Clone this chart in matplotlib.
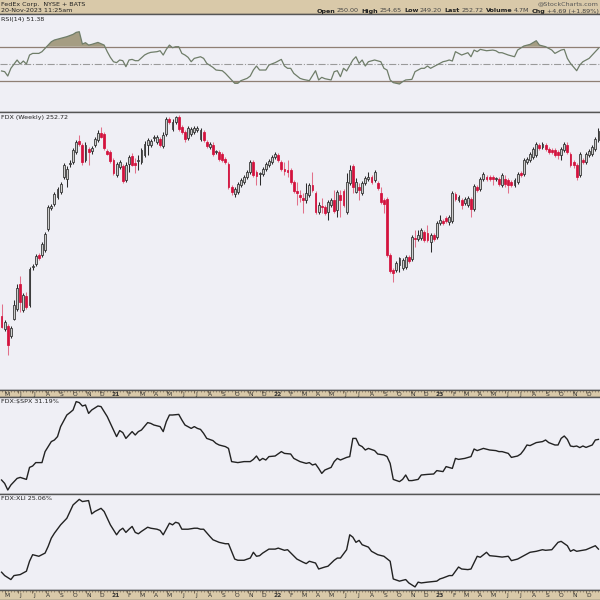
# weekly FDX candles with RSI and relative-strength panels, StockCharts look

import pandas as pd
import numpy as np
import matplotlib
matplotlib.use("Agg")
import matplotlib.pyplot as plt
import matplotlib.dates as mdates
from matplotlib.patches import Rectangle

# ---- weekly candles ----
opens = [123.2, 114.1, 116.2, 109.2, 121.1, 128.1, 145.6, 127.4, 137.2, 130.9,
         157.5, 159.6, 165.9, 165.9, 169.4, 184.1, 198.8, 201.6, 206.5, 210.0,
         220.5, 219.1, 229.6, 231.0, 238.0, 245.7, 242.9, 232.4, 240.1, 238.7,
         242.9, 246.4, 251.3, 250.6, 238.7, 238.0, 232.4, 221.9, 227.5, 228.2,
         218.4, 229.6, 235.2, 230.3, 231.7, 231.0, 235.9, 242.9, 242.9, 247.8,
         245.0, 247.1, 242.2, 250.6, 261.1, 254.1, 259.0, 262.5, 255.5, 252.0,
         247.8, 250.6, 252.0, 253.4, 247.1, 252.0, 245.0, 241.5, 242.9, 238.0,
         238.0, 236.6, 233.1, 229.6, 213.5, 208.6, 210.0, 214.9, 217.0, 220.5,
         224.0, 231.0, 224.0, 222.6, 222.6, 226.1, 228.9, 231.0, 234.5, 235.9,
         231.0, 226.1, 225.4, 225.4, 217.0, 210.7, 207.9, 205.8, 204.4, 207.9,
         214.9, 209.3, 196.0, 200.2, 199.5, 196.0, 200.9, 204.4, 197.4, 207.9,
         210.7, 196.0, 216.3, 228.2, 210.0, 213.5, 209.3, 216.3, 219.1, 220.5,
         218.4, 216.3, 209.3, 204.4, 205.1, 165.9, 155.4, 155.4, 158.9, 156.8,
         157.5, 164.5, 163.1, 177.8, 177.1, 177.8, 182.0, 181.3, 175.0, 179.9,
         178.5, 188.3, 189.7, 191.8, 189.0, 189.7, 208.6, 204.4, 204.4, 202.3,
         200.9, 205.1, 198.1, 213.5, 212.1, 219.1, 220.5, 220.5, 220.5, 219.1,
         219.1, 214.9, 219.1, 218.4, 217.0, 214.9, 217.0, 223.3, 222.6, 231.0,
         232.4, 234.5, 235.9, 242.9, 241.5, 242.9, 240.1, 239.4, 239.4, 238.0,
         235.9, 239.4, 242.9, 236.6, 231.0, 228.9, 221.9, 232.4, 231.0, 235.9,
         236.6, 240.1, 246.4]
highs = [131.6, 120.4, 117.6, 116.2, 134.4, 145.6, 151.2, 139.3, 140.0, 157.5,
         159.6, 166.6, 167.3, 175.0, 182.0, 200.9, 201.6, 210.0, 213.5, 217.0,
         230.3, 228.2, 232.4, 240.8, 246.4, 249.9, 244.3, 245.0, 241.5, 242.2,
         248.5, 253.4, 255.5, 252.0, 240.1, 239.4, 233.8, 231.0, 232.4, 229.6,
         231.0, 235.9, 237.3, 233.8, 235.9, 240.8, 245.7, 247.8, 247.1, 249.9,
         249.9, 248.5, 252.0, 262.5, 262.5, 261.1, 263.2, 263.9, 256.9, 253.4,
         256.2, 255.5, 256.2, 256.2, 254.8, 253.4, 246.4, 245.0, 245.0, 239.4,
         239.4, 238.0, 234.5, 231.0, 214.9, 213.5, 217.0, 219.8, 221.9, 225.4,
         232.4, 232.4, 225.4, 224.0, 227.5, 231.0, 233.1, 235.9, 238.0, 237.3,
         232.4, 231.0, 232.4, 226.8, 218.4, 217.0, 211.4, 209.3, 216.3, 216.3,
         224.0, 210.7, 203.0, 205.8, 200.9, 204.4, 205.8, 211.4, 211.4, 211.4,
         212.1, 223.3, 228.9, 229.6, 219.8, 216.3, 217.7, 221.2, 224.0, 221.9,
         225.4, 217.7, 213.5, 205.8, 206.5, 167.3, 156.8, 161.7, 164.5, 163.8,
         165.9, 165.9, 179.9, 183.4, 183.4, 184.8, 183.4, 186.9, 181.3, 181.3,
         189.7, 193.9, 191.1, 193.2, 193.9, 210.7, 210.0, 207.9, 205.8, 206.5,
         207.2, 206.5, 215.6, 214.9, 220.5, 224.0, 221.9, 221.9, 221.9, 220.5,
         220.5, 223.3, 221.9, 219.8, 218.4, 219.8, 224.0, 224.7, 233.8, 234.5,
         238.0, 241.5, 245.0, 244.3, 245.0, 244.3, 241.5, 240.8, 240.8, 239.4,
         241.5, 245.0, 245.0, 238.0, 232.4, 230.3, 238.0, 233.8, 238.0, 240.1,
         242.9, 248.5, 254.8]
lows = [114.8, 112.7, 95.9, 107.8, 120.4, 126.7, 126.0, 126.0, 128.1, 129.5,
        155.4, 158.2, 162.4, 164.5, 168.0, 182.7, 197.4, 200.2, 205.1, 208.6,
        219.1, 213.5, 227.5, 229.6, 236.6, 242.2, 228.9, 231.0, 228.9, 236.6,
        241.5, 245.0, 247.8, 239.4, 235.9, 230.3, 221.9, 220.5, 226.1, 216.3,
        217.0, 224.0, 228.2, 223.3, 225.4, 229.6, 234.5, 235.9, 241.5, 245.7,
        243.6, 241.5, 240.8, 249.2, 257.6, 252.7, 257.6, 252.7, 250.6, 245.0,
        246.4, 249.2, 250.6, 252.0, 245.7, 245.0, 240.8, 240.1, 235.2, 236.6,
        231.7, 231.0, 229.6, 212.1, 207.9, 206.5, 208.6, 213.5, 215.6, 219.1,
        222.6, 220.5, 214.9, 214.9, 221.2, 224.7, 227.5, 229.6, 233.1, 231.0,
        224.7, 221.9, 220.5, 215.6, 209.3, 200.9, 203.0, 195.3, 202.3, 206.5,
        210.0, 194.6, 194.6, 195.3, 193.9, 190.4, 199.5, 195.3, 192.5, 192.5,
        199.5, 194.6, 214.9, 209.3, 209.3, 204.4, 207.9, 214.9, 217.7, 215.6,
        217.0, 211.4, 201.6, 195.3, 164.5, 153.3, 147.0, 154.0, 154.0, 155.4,
        156.1, 160.3, 161.7, 171.5, 175.7, 176.4, 175.0, 175.0, 168.0, 175.7,
        177.1, 186.9, 186.9, 188.3, 186.9, 188.3, 203.7, 203.0, 198.1, 200.9,
        199.5, 192.5, 196.7, 210.0, 210.7, 217.7, 217.7, 217.7, 214.9, 217.7,
        214.2, 213.5, 213.5, 209.3, 213.5, 213.5, 215.6, 220.5, 221.2, 229.6,
        231.0, 233.1, 234.5, 239.4, 240.1, 238.7, 236.6, 236.6, 234.5, 233.1,
        232.4, 238.0, 236.6, 227.5, 226.8, 218.4, 220.5, 229.6, 229.6, 234.5,
        235.2, 238.7, 245.0]
closes = [115.5, 119.0, 102.9, 114.8, 130.9, 142.8, 133.0, 137.9, 129.5, 156.1,
          158.2, 165.2, 163.8, 173.6, 180.6, 199.5, 200.2, 208.6, 212.1, 215.6,
          228.9, 226.1, 230.3, 239.4, 245.0, 243.6, 231.0, 242.9, 238.0, 240.8,
          247.1, 251.3, 248.5, 240.8, 236.6, 231.7, 223.3, 229.6, 231.0, 217.7,
          228.9, 234.5, 228.9, 228.9, 232.4, 239.4, 243.6, 246.4, 245.7, 248.5,
          248.5, 242.9, 249.9, 261.1, 259.0, 259.0, 262.5, 254.1, 252.0, 247.1,
          254.8, 254.1, 254.8, 254.8, 253.4, 246.4, 242.2, 243.6, 236.6, 238.0,
          233.1, 232.4, 231.0, 213.5, 210.0, 212.1, 215.6, 218.4, 220.5, 224.0,
          231.0, 221.9, 221.2, 222.6, 226.1, 229.6, 231.7, 234.5, 236.6, 232.4,
          226.1, 224.7, 224.0, 217.0, 210.7, 209.3, 206.5, 204.4, 209.3, 214.9,
          211.4, 196.0, 200.9, 199.5, 195.3, 203.0, 204.4, 196.7, 210.0, 204.4,
          200.9, 217.0, 225.4, 213.5, 217.0, 211.4, 216.3, 219.8, 220.5, 217.0,
          224.0, 212.8, 203.0, 201.6, 165.9, 154.7, 153.3, 160.3, 163.8, 162.4,
          164.5, 161.7, 178.5, 177.1, 179.9, 183.4, 176.4, 176.4, 179.9, 177.1,
          188.3, 190.4, 188.3, 189.7, 192.5, 209.3, 205.1, 206.5, 200.9, 205.1,
          205.8, 198.1, 214.2, 211.4, 219.1, 222.6, 219.1, 219.1, 219.1, 219.1,
          215.6, 221.9, 215.6, 214.9, 214.9, 218.4, 222.6, 221.9, 232.4, 233.1,
          236.6, 240.1, 243.6, 240.8, 243.6, 240.1, 238.0, 238.0, 235.9, 235.9,
          240.1, 243.6, 238.0, 228.9, 228.9, 220.5, 236.6, 231.0, 236.6, 238.7,
          241.5, 247.1, 252.72]

# ---- RSI(14), sampled at these week numbers ----
rsi_week = [0, 1, 2, 3, 5, 6, 7, 8, 9, 10, 12, 13, 15, 16, 17, 19, 21, 23, 24, 25,
            26, 27, 28, 29, 31, 33, 34, 35, 36, 37, 38, 39, 40, 41, 42, 43, 44, 46, 47, 48,
            50, 51, 52, 53, 54, 55, 56, 57, 58, 59, 60, 61, 62, 64, 65, 66, 68, 69, 71, 72,
            74, 75, 76, 77, 79, 80, 81, 82, 83, 85, 86, 88, 90, 91, 92, 93, 94, 96, 97, 99,
            101, 102, 103, 104, 106, 107, 108, 109, 110, 111, 113, 114, 115, 116, 117, 118, 120, 122, 123, 124,
            125, 126, 128, 129, 130, 132, 133, 135, 136, 137, 138, 140, 142, 143, 144, 145, 146, 147, 148, 150,
            151, 152, 153, 154, 156, 158, 159, 160, 161, 163, 165, 166, 168, 170, 172, 173, 175, 177, 178, 180,
            181, 182, 183, 185, 186, 187, 189, 190, 192]
rsi_value = [41.7, 40.9, 35.8, 44.8, 54.5, 49.8, 53.3, 49.8, 60.3, 62.2, 62.2, 64.2, 71.9, 75.8, 77.8, 79.7, 81.7, 84.4, 86.7, 87.5,
             73.1, 74.7, 71.9, 72.7, 75.0, 71.9, 64.2, 57.6, 52.5, 51.4, 54.5, 53.7, 46.7, 54.5, 55.2, 53.7, 53.7, 60.3, 62.2, 63.4,
             64.2, 65.3, 60.3, 66.9, 71.9, 68.8, 70.0, 70.0, 62.2, 60.3, 57.6, 52.5, 56.4, 58.3, 56.4, 50.6, 45.9, 42.8, 42.0, 38.9,
             31.2, 27.3, 27.3, 30.4, 33.1, 35.8, 42.8, 47.5, 42.8, 42.8, 48.6, 51.4, 55.2, 47.5, 44.8, 44.8, 38.9, 33.1, 31.9, 30.4,
             42.0, 31.2, 34.3, 32.7, 31.2, 40.9, 42.0, 35.0, 44.8, 41.7, 54.5, 58.3, 50.6, 54.5, 47.5, 52.5, 54.5, 52.5, 44.8, 42.8,
             31.2, 28.1, 26.5, 29.2, 31.2, 31.9, 40.9, 44.8, 44.8, 47.5, 44.8, 48.6, 52.5, 53.3, 54.5, 53.3, 64.2, 62.2, 60.3, 63.0,
             58.3, 66.1, 64.2, 66.9, 65.3, 66.1, 65.3, 63.0, 63.0, 60.3, 58.3, 66.1, 70.8, 72.7, 77.0, 71.9, 70.0, 66.1, 62.2, 66.1,
             66.9, 56.4, 50.6, 42.0, 48.6, 52.5, 56.4, 60.3, 68.1]

# ---- FDX relative to $SPX ----
spx_week = [0, 1, 2, 3, 5, 6, 7, 8, 9, 10, 11, 13, 14, 16, 17, 18, 19, 21, 22, 23,
            24, 25, 26, 27, 28, 29, 31, 32, 34, 35, 36, 37, 38, 39, 40, 41, 42, 43, 44, 45,
            47, 48, 49, 51, 52, 53, 54, 55, 57, 58, 59, 61, 62, 63, 64, 65, 66, 68, 69, 70,
            72, 73, 74, 76, 78, 80, 81, 82, 83, 84, 85, 86, 88, 90, 91, 93, 94, 96, 98, 99,
            100, 101, 102, 103, 104, 106, 107, 108, 109, 111, 112, 113, 114, 115, 116, 117, 118, 120, 121, 123,
            124, 125, 126, 128, 129, 130, 131, 132, 134, 135, 137, 139, 140, 142, 143, 145, 146, 147, 149, 151,
            152, 153, 155, 157, 159, 160, 161, 163, 164, 166, 167, 168, 169, 170, 172, 174, 175, 176, 178, 179,
            180, 181, 182, 183, 184, 185, 186, 187, 188, 190, 191, 192]
spx_rel = [1.00, 0.83, 0.50, 0.75, 1.08, 1.13, 1.08, 1.03, 1.63, 1.70, 1.87, 1.87, 2.42, 2.92, 3.00, 3.17, 3.67, 4.25, 4.37, 4.50,
           4.92, 4.87, 4.70, 4.75, 4.33, 4.50, 4.70, 4.67, 4.17, 3.83, 3.50, 3.17, 3.47, 3.37, 3.08, 3.25, 3.42, 3.25, 3.42, 3.50,
           3.87, 3.83, 3.75, 3.67, 3.42, 3.92, 4.25, 4.25, 4.28, 4.00, 3.75, 3.58, 3.67, 3.58, 3.53, 3.33, 3.08, 2.97, 2.83, 2.75,
           2.67, 2.58, 1.92, 1.87, 1.92, 1.92, 2.03, 2.20, 1.97, 2.08, 2.00, 2.17, 2.20, 2.42, 2.33, 2.30, 2.08, 1.92, 1.83, 1.87,
           1.75, 1.80, 1.58, 1.33, 1.50, 1.63, 1.92, 2.08, 2.00, 2.13, 2.17, 3.08, 3.08, 2.75, 2.67, 2.50, 2.58, 2.47, 2.30, 2.25,
           2.17, 1.83, 1.03, 0.92, 1.03, 1.25, 0.97, 0.97, 1.03, 1.25, 1.28, 1.30, 1.47, 1.42, 1.67, 1.58, 2.08, 2.03, 2.08, 2.17,
           2.55, 2.47, 2.58, 2.50, 2.47, 2.42, 2.42, 2.33, 2.13, 2.20, 2.30, 2.50, 2.75, 2.72, 2.87, 2.92, 3.00, 2.87, 2.75, 2.75,
           3.08, 3.20, 3.03, 2.70, 2.67, 2.70, 2.62, 2.70, 2.63, 2.75, 3.00, 3.03]

# ---- FDX relative to XLI ----
xli_week = [0, 1, 3, 4, 6, 8, 9, 10, 12, 14, 15, 16, 17, 19, 21, 22, 23, 25, 26, 28,
            29, 30, 32, 33, 34, 35, 37, 38, 39, 40, 41, 42, 43, 44, 45, 47, 48, 50, 51, 52,
            54, 55, 56, 57, 58, 60, 62, 63, 64, 65, 67, 68, 70, 72, 73, 75, 76, 78, 80, 81,
            82, 83, 84, 86, 88, 89, 91, 92, 95, 97, 98, 99, 101, 102, 104, 105, 107, 108, 109, 111,
            112, 113, 114, 115, 116, 118, 119, 121, 123, 125, 126, 128, 130, 131, 133, 134, 135, 137, 140, 141,
            142, 144, 145, 147, 148, 150, 151, 153, 154, 156, 157, 159, 161, 163, 164, 166, 168, 170, 172, 174,
            175, 177, 179, 180, 182, 183, 184, 185, 187, 188, 190, 191, 192]
xli_rel = [0.87, 0.70, 0.50, 0.70, 0.75, 0.92, 1.42, 1.75, 1.67, 1.83, 2.17, 2.58, 2.83, 3.25, 3.58, 3.92, 4.25, 4.53, 4.42, 4.47,
           3.80, 3.92, 4.08, 3.92, 3.58, 3.25, 2.75, 2.97, 3.08, 2.87, 3.03, 3.17, 2.87, 2.80, 2.92, 3.13, 3.08, 3.03, 2.97, 2.75,
           3.33, 3.25, 3.38, 3.33, 3.03, 3.03, 3.08, 3.08, 3.03, 3.03, 2.67, 2.50, 2.37, 2.30, 2.30, 1.53, 1.47, 1.47, 1.58, 1.87,
           1.67, 1.70, 1.83, 2.03, 2.03, 2.08, 1.97, 2.00, 1.53, 1.37, 1.30, 1.42, 1.33, 1.03, 1.13, 1.17, 1.47, 1.58, 1.58, 2.00,
           2.75, 2.63, 2.37, 2.47, 2.25, 2.13, 1.92, 1.75, 1.67, 1.42, 0.53, 0.42, 0.50, 0.33, 0.13, 0.37, 0.33, 0.37, 0.42, 0.53,
           0.58, 0.70, 0.70, 1.13, 1.03, 1.00, 1.03, 1.67, 1.62, 1.87, 1.70, 1.67, 1.63, 1.67, 1.45, 1.53, 1.70, 1.87, 1.92, 2.00,
           1.97, 2.00, 2.37, 2.42, 2.20, 1.92, 2.00, 1.92, 1.97, 2.00, 2.13, 2.20, 2.03]

month_labels = ["M", "J", "J", "A", "S", "O", "N", "D",
                "21", "F", "M", "A", "M", "J", "J", "A", "S", "O", "N", "D",
                "22", "F", "M", "A", "M", "J", "J", "A", "S", "O", "N", "D",
                "23", "F", "M", "A", "M", "J", "J", "A", "S", "O", "N", "D"]

quote_parts = [("Open", True), ("250.00", False), ("High", True), ("254.65", False),
               ("Low", True), ("249.20", False), ("Last", True), ("252.72", False),
               ("Volume", True), ("4.7M", False), ("Chg", True), ("+4.69 (+1.89%)", False)]

BG = "#efeff5"
TAN = "#d9c9a9"
EDGE = "#555555"
DARK = "#2b2b2b"
HOLLOW = "#cdcdcd"
RED = "#d3123d"
PINK = "#e2708a"
RSI_LINE = "#6f7d69"
RSI_FILL = "#a59d83"
BAND_LINE = "#8f7f74"
FS = 4.6

W, H = 600, 600
dates = pd.date_range("2020-04-24", periods=len(closes), freq="7D")
xs = mdates.date2num(dates)
x0, x1 = xs[0] - 3.5, xs[-1] + 3.5
month_starts = mdates.date2num(pd.date_range("2020-05-01", periods=len(month_labels), freq="MS"))

fig = plt.figure(figsize=(6, 6), dpi=100)
fig.patch.set_facecolor(BG)


def add_panel(top, bottom, color=BG):
    ax = fig.add_axes([0, 1 - bottom / H, 1, (bottom - top) / H])
    ax.set_facecolor(color)
    ax.set_xlim(x0, x1)
    ax.set_xticks([])
    ax.set_yticks([])
    for side in ("left", "right"):
        ax.spines[side].set_visible(False)
    for side in ("top", "bottom"):
        ax.spines[side].set_color(EDGE)
        ax.spines[side].set_linewidth(1.0)
    return ax


def date_band(top, bottom):
    ax = add_panel(top, bottom, TAN)
    ax.set_ylim(0, 1)
    ax.set_xticks(month_starts)
    ax.set_xticks(xs, minor=True)
    ax.tick_params(axis="x", which="both", direction="in", top=True, bottom=False,
                   labelbottom=False, color="#6b5a45")
    ax.tick_params(axis="x", which="major", length=2.5, width=0.6)
    ax.tick_params(axis="x", which="minor", length=1.2, width=0.4)
    for m, lab in zip(month_starts, month_labels):
        ax.text(m + 5, 0.42, lab, ha="center", va="center", fontsize=FS - 0.3,
                color="#333333", fontweight="bold" if lab.isdigit() else "normal")
    return ax


def ftext(x, y, s, color="#222222", **kw):
    return fig.text(x / W, 1 - y / H, s, fontsize=FS, color=color, va="center", **kw)


# header strip
hdr = add_panel(0, 14.3, TAN)
hdr.spines["top"].set_visible(False)
ftext(1, 4.5, "FedEx Corp.  NYSE + BATS", ha="left")
ftext(1, 11, "20-Nov-2023 11:25am", ha="left")
ftext(599, 4, "@StockCharts.com", ha="right", color="#555555")

# quote line, laid out right to left so it ends at the right edge
renderer = fig.canvas.get_renderer()
cursor = 599
for qs, bold in reversed(quote_parts):
    t = ftext(cursor, 11, qs, ha="right", color="#222222" if bold else "#444444",
              fontweight="bold" if bold else "normal")
    bb = t.get_window_extent(renderer)
    cursor = bb.x0 - (2.5 if bold else 1.5)

# RSI panel
ax_rsi = add_panel(14.3, 111.7)
ax_rsi.set_ylim(-5.8, 107.8)
rx = xs[rsi_week]
rv = np.array(rsi_value)
ax_rsi.axhline(70, color=BAND_LINE, lw=0.9)
ax_rsi.axhline(30, color=BAND_LINE, lw=0.9)
ax_rsi.axhline(50, color="#9a9a9a", lw=0.8, linestyle="-.")
ax_rsi.fill_between(rx, rv, 70, where=rv > 70, interpolate=True, color=RSI_FILL, lw=0)
ax_rsi.fill_between(rx, rv, 30, where=rv < 30, interpolate=True, color=RSI_FILL, lw=0)
ax_rsi.plot(rx, rv, color=RSI_LINE, lw=0.9)
ftext(1, 19, "RSI(14) 51.38", ha="left")

# price panel
ax_p = add_panel(111.7, 389.5)
ax_p.set_ylim(71.75, 266.2)
body_w = 4.2
for x, o, h, l, c in zip(xs, opens, highs, lows, closes):
    up = c >= o
    lo, hi = min(o, c), max(o, c)
    ax_p.plot([x, x], [l, h], color=DARK if up else PINK, lw=0.75,
              solid_capstyle="butt", zorder=2)
    if up:
        ax_p.add_patch(Rectangle((x - body_w / 2, lo), body_w, max(hi - lo, 0.4),
                                 facecolor=HOLLOW, edgecolor=DARK, lw=0.55, zorder=3))
    else:
        ax_p.add_patch(Rectangle((x - body_w / 2, lo), body_w, max(hi - lo, 0.4),
                                 facecolor=RED, edgecolor=RED, lw=0.55, zorder=3))
ftext(1, 117, "FDX (Weekly) 252.72", ha="left")

date_band(389.5, 397.3)

# relative strength panels
ax_spx = add_panel(397.3, 494.3)
ax_spx.set_ylim(0.285, 5.135)
ax_spx.plot(xs[spx_week], spx_rel, color="#222222", lw=1.0)
ftext(1, 402, "FDX:$SPX 31.19%", ha="left")

ax_xli = add_panel(494.3, 589.5)
ax_xli.set_ylim(0, 4.785)
ax_xli.plot(xs[xli_week], xli_rel, color="#222222", lw=1.0)
ftext(1, 498.5, "FDX:XLI 25.06%", ha="left")

date_band(589.5, 600)

fig.savefig("out.png", dpi=100, facecolor=BG)
plt.close(fig)
